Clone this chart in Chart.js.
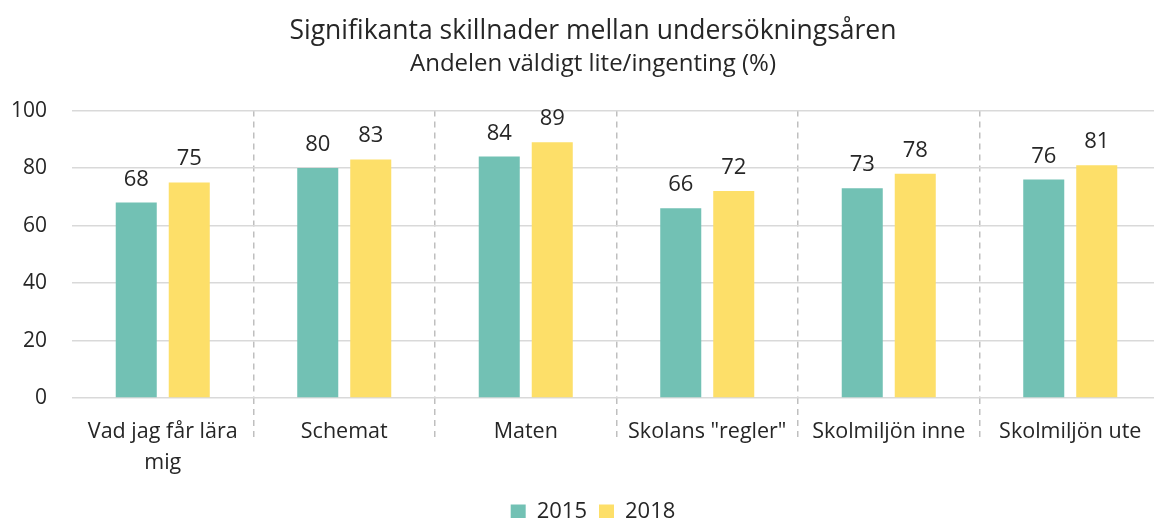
<!DOCTYPE html>
<html>
<head>
<meta charset="utf-8">
<script src="https://cdn.jsdelivr.net/npm/chart.js@4"></script>
<style>
  html, body { margin: 0; padding: 0; background: #fff; overflow: hidden; }
  #wrap { width: 1186px; height: 533px; }
</style>
</head>
<body>
<div id="wrap"><canvas id="chart"></canvas></div>
<script>
// Kategorier och värden
const categories = [
    ["Vad jag får lära", "mig"],
    "Schemat",
    "Maten",
    "Skolans \"regler\"",
    "Skolmiljön inne",
    "Skolmiljön ute"
];
const values2015 = [68, 80, 84, 66, 73, 76];
const values2018 = [75, 83, 89, 72, 78, 81];
const yTicks = [0, 20, 40, 60, 80, 100];

const textColor = "#262626";
const font = "'Open Sans', sans-serif";

// etiketter ovanför staplarna
const valueLabels = {
    id: "valueLabels",
    afterLayout(chart) {
        // låt y-etiketterna gå ut i vänstermarginalen utan att klippas
        chart.scales.y.left = 0;
    },
    afterDatasetsDraw(chart) {
        const ctx = chart.ctx;
        ctx.save();
        ctx.fillStyle = textColor;
        ctx.font = "22px " + font;
        ctx.textAlign = "center";
        ctx.textBaseline = "alphabetic";
        chart.data.datasets.forEach((ds, i) => {
            chart.getDatasetMeta(i).data.forEach((bar, j) => {
                ctx.fillText(ds.data[j], bar.x, bar.y - 17);
            });
        });
        ctx.restore();
    }
};

const sepColor = (c) => c.index === 0 ? "rgba(0,0,0,0)" : "#bfbfbf";

new Chart(document.getElementById("chart"), {
    type: "bar",
    data: {
        labels: categories,
        datasets: [{
            label: "2015",
            data: values2015,
            backgroundColor: "#72c1b4",
            barPercentage: 0.774,
            categoryPercentage: 0.584
        }, {
            label: "2018",
            data: values2018,
            backgroundColor: "#fddf69",
            barPercentage: 0.774,
            categoryPercentage: 0.584
        }]
    },
    options: {
        responsive: true,
        maintainAspectRatio: false,
        animation: false,
        layout: { padding: { left: 25, right: 25, top: 0, bottom: 0 } },
        plugins: {
            title: {
                display: true,
                text: "Signifikanta skillnader mellan undersökningsåren",
                color: textColor,
                font: { family: font, size: 26.5, weight: "normal" },
                padding: { top: 16, bottom: 2 }
            },
            subtitle: {
                display: true,
                text: "Andelen väldigt lite/ingenting (%)",
                color: textColor,
                font: { family: font, size: 24, weight: "normal" },
                padding: { top: 0, bottom: 32 }
            },
            legend: {
                position: "bottom",
                labels: {
                    color: textColor,
                    font: { family: font, size: 22 },
                    boxWidth: 15,
                    boxHeight: 15,
                    padding: 12
                }
            },
            tooltip: { enabled: false }
        },
        scales: {
            x: {
                afterFit: (axis) => {
                    axis.paddingLeft = 0;
                    axis.paddingRight = 0;
                    axis.height = 91;
                },
                grid: {
                    display: true,
                    offset: true,
                    drawTicks: true,
                    tickLength: 40,
                    color: sepColor,
                    tickColor: sepColor,
                    lineWidth: 1.5,
                    tickWidth: 1.5,
                    tickBorderDash: [6, 5]
                },
                border: { display: false, dash: [6, 5] },
                ticks: {
                    color: textColor,
                    font: { family: font, size: 21.5, lineHeight: 1.44 },
                    padding: -22,
                    maxRotation: 0
                }
            },
            y: {
                min: 0,
                max: 100,
                afterBuildTicks: (axis) => {
                    axis.ticks = yTicks.map(v => ({ value: v }));
                },
                afterFit: (axis) => {
                    axis.width = 47;
                },
                grid: {
                    color: "#d9d9d9",
                    lineWidth: 1.5,
                    drawTicks: false
                },
                border: { display: false },
                ticks: {
                    color: textColor,
                    font: { family: font, size: 21 },
                    padding: 25
                }
            }
        }
    },
    plugins: [valueLabels]
});
</script>
</body>
</html>
